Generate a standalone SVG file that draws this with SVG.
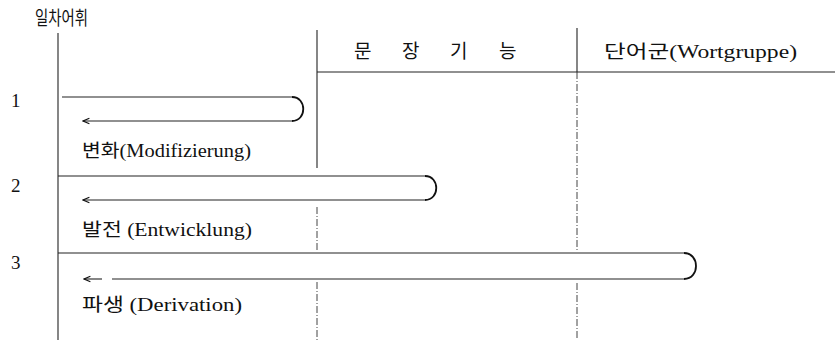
<svg xmlns="http://www.w3.org/2000/svg" width="835" height="340" viewBox="0 0 835 340">
<defs>
<style>
.t{font-family:"Liberation Serif","Noto Sans CJK KR",serif;fill:#111;font-size:18px}
.n{font-family:"Liberation Serif",serif;fill:#111;font-size:19px}
.k{font-family:"Noto Sans CJK KR",sans-serif;fill:#111;font-size:19px}
.ln{stroke:#222;stroke-width:1.1;fill:none}
.dl{stroke:#444;stroke-width:1;fill:none;stroke-dasharray:7 2 1 2}
.br{stroke:#111;stroke-width:1.8;fill:none}
</style>
<marker id="ah" viewBox="0 0 10 10" refX="9" refY="5" markerWidth="8" markerHeight="8" markerUnits="userSpaceOnUse" orient="auto">
<path d="M1 1.5 L9 5 L1 8.5" fill="none" stroke="#111" stroke-width="1.5"/>
</marker>
</defs>
<rect width="835" height="340" fill="#fff"/>
<g id="grid">
<line class="ln" x1="58" y1="33" x2="58" y2="340"/>
<line class="ln" x1="317" y1="30" x2="317" y2="168"/>
<line class="dl" x1="317" y1="207" x2="317" y2="252"/>
<line class="dl" x1="317" y1="282" x2="317" y2="340"/>
<line class="ln" x1="577" y1="28" x2="577" y2="72"/>
<line class="dl" x1="577" y1="72" x2="577" y2="252"/>
<line class="dl" x1="577" y1="283" x2="577" y2="340"/>
<line class="ln" x1="317" y1="72" x2="835" y2="72"/>
</g>
<g id="title"><text class="k" x="35" y="25" textLength="53" lengthAdjust="spacingAndGlyphs">일차어휘</text></g>
<g id="header-sentence"><text class="k" x="354" y="58">문</text><text class="k" x="402" y="58">장</text><text class="k" x="450" y="58">기</text><text class="k" x="499" y="58">능</text></g>
<g id="header-group"><text class="t" x="604" y="58" textLength="193" lengthAdjust="spacingAndGlyphs">단어군(Wortgruppe)</text></g>
<g id="row1">
<text class="n" x="11" y="107">1</text>
<text class="t" x="82" y="157" textLength="169" lengthAdjust="spacingAndGlyphs">변화(Modifizierung)</text>
</g>
<g id="row2">
<text class="n" x="11" y="192">2</text>
<text class="t" x="82" y="236" textLength="170" lengthAdjust="spacingAndGlyphs">발전 (Entwicklung)</text>
</g>
<g id="row3">
<text class="n" x="11" y="269">3</text>
<text class="t" x="82" y="311" textLength="160" lengthAdjust="spacingAndGlyphs">파생 (Derivation)</text>
</g>
<g id="connectors">
<path class="ln" d="M62 97 H292"/>
<path class="br" d="M292 97 C307 97 307 121 292 121"/>
<path class="ln" d="M292 121 H83" marker-end="url(#ah)"/>
<path class="ln" d="M58 176 H425"/>
<path class="br" d="M425 176 C440 176 440 200 425 200"/>
<path class="ln" d="M425 200 H83" marker-end="url(#ah)"/>
<path class="ln" d="M58 253 H684"/>
<path class="br" d="M684 253 C700 253 700 279 684 279"/>
<path class="ln" d="M684 279 H112"/>
<path class="ln" d="M102 279 H84" marker-end="url(#ah)"/>
</g>
</svg>
